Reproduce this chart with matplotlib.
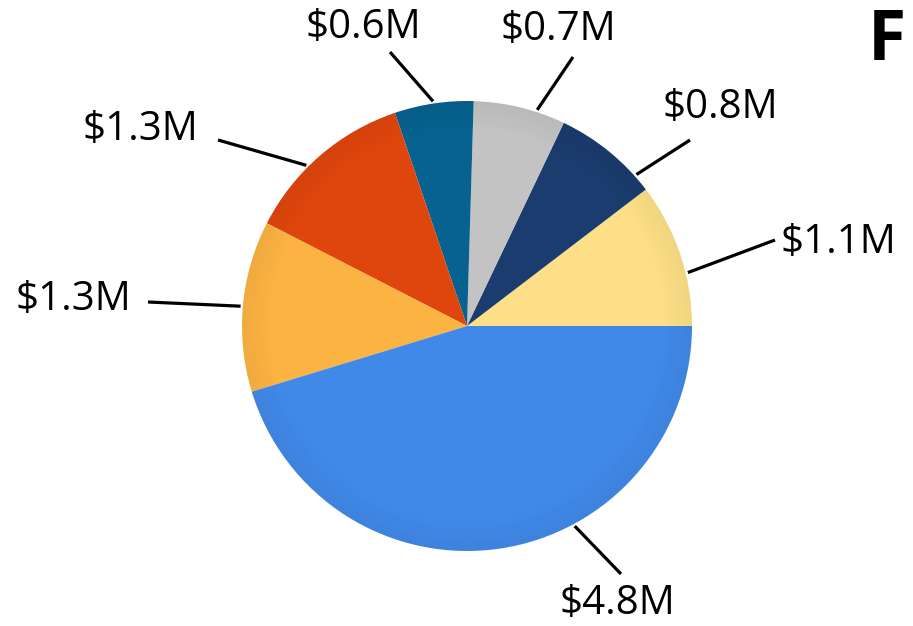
import numpy as np
import matplotlib
matplotlib.use("Agg")
import matplotlib.pyplot as plt
from matplotlib.patches import Wedge

# slice values in $M, counter-clockwise from 3 o'clock
values = [1.1, 0.8, 0.7, 0.6, 1.3, 1.3, 4.8]
labels = ["$1.1M", "$0.8M", "$0.7M", "$0.6M", "$1.3M", "$1.3M", "$4.8M"]
colors = ["#FCDF86", "#1B3C6E", "#C3C3C3", "#07628F", "#DF460D", "#FBB342", "#4189E8"]

# leader line layout (pixel coords, y down): angle on rim, outer end, text centre
leader_angle = [13.6, 41.8, 72, 98.6, 135, 175, -61.7]
leader_out = [(775, 240), (690, 140), (573, 57), (390, 52), (218, 140), (148, 302), (621, 574)]
text_pos = [(838, 243), (720, 108), (558, 30), (363, 28), (140, 130), (73, 300), (617, 604)]

W, H = 913, 626
cx, cy, R = 467, 326, 225

fig = plt.figure(figsize=(W / 100, H / 100), dpi=100)
ax = fig.add_axes([0, 0, 1, 1])

ax.pie(values, colors=colors, startangle=0, counterclock=True,
       center=(cx, H - cy), radius=R, frame=True,
       wedgeprops=dict(linewidth=0))
ax.set_xlim(0, W)
ax.set_ylim(0, H)
ax.set_aspect("equal")
ax.axis("off")

# fake bevel: darken towards the rim
n = 16
for i in range(n):
    r_out = R * (1 - i * 0.008)
    ax.add_patch(Wedge((cx, H - cy), r_out, 0, 360, width=R * 0.008,
                       facecolor="black", alpha=0.045 * (n - i) / n,
                       linewidth=0))

for lab, a, (ox, oy), (tx, ty) in zip(labels, leader_angle, leader_out, text_pos):
    rad = np.deg2rad(a)
    ix = cx + R * 1.01 * np.cos(rad)
    iy = (H - cy) + R * 1.01 * np.sin(rad)
    ax.plot([ix, ox], [iy, H - oy], color="black", lw=2.3, solid_capstyle="butt")
    ax.text(tx, H - ty, lab, ha="center", va="center", fontsize=29,
            family="Open Sans", color="black")

# title, mostly outside the picture in the original
ax.text(868, H - 42, "F", ha="left", va="center", fontsize=50,
        fontweight="bold", family="Open Sans", color="black")

fig.savefig("out.png", dpi=100)
